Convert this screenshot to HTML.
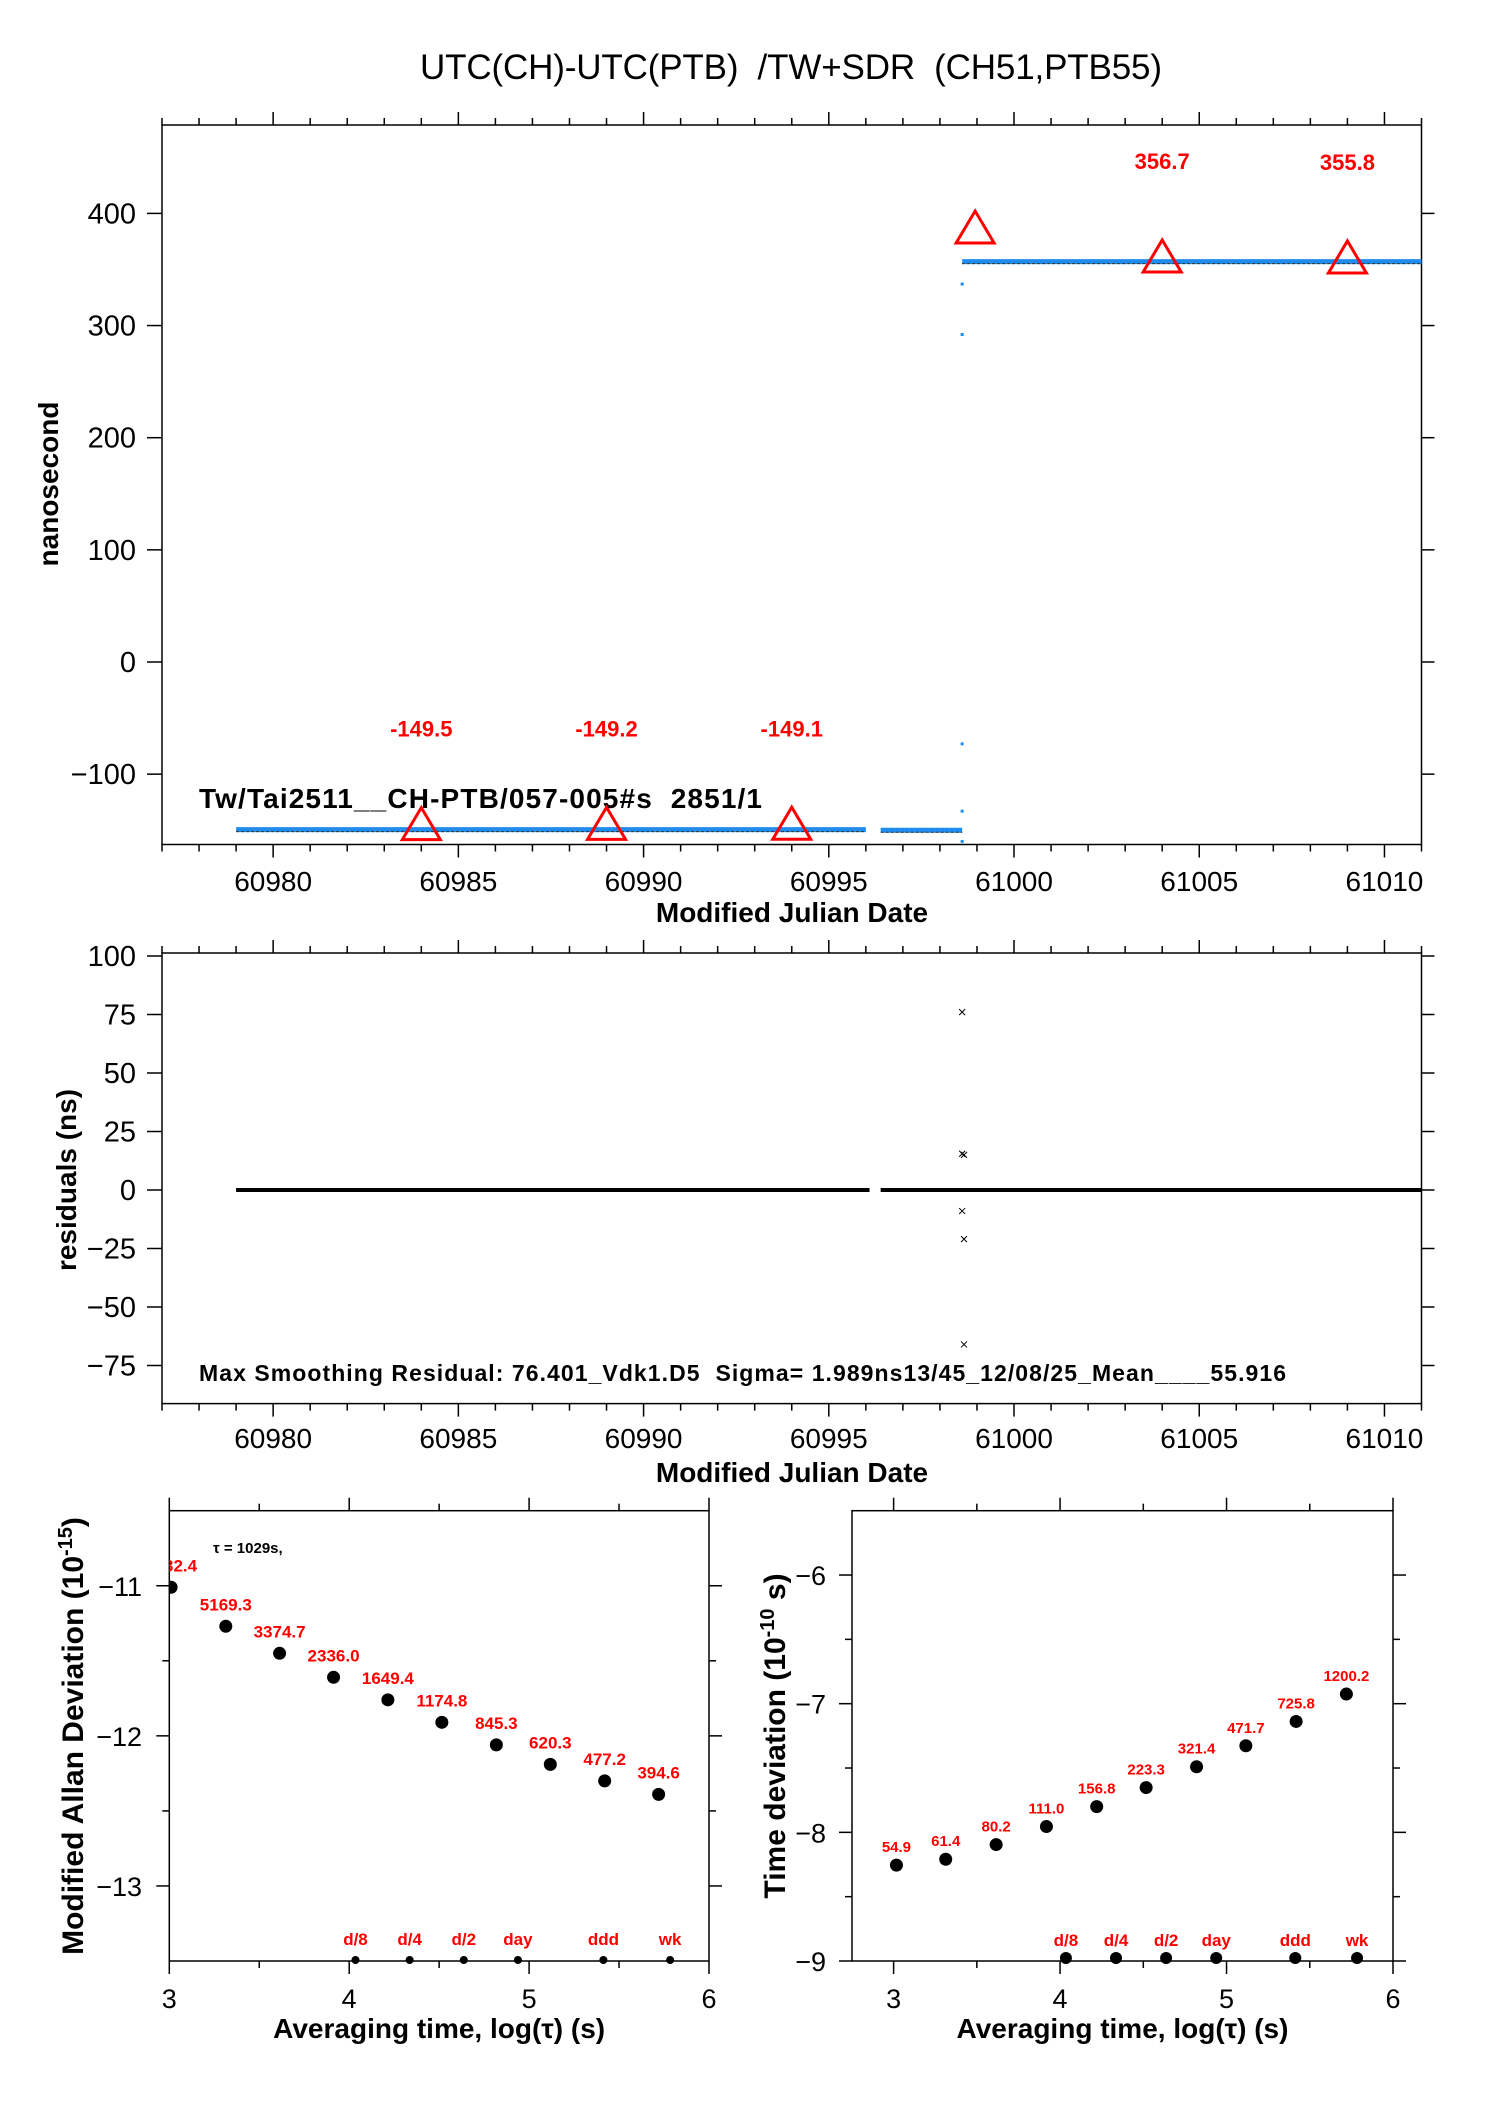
<!DOCTYPE html>
<html><head><meta charset="utf-8"><style>
html,body{margin:0;padding:0;background:#fff;}
svg{display:block;font-family:"Liberation Sans",Arial,sans-serif;}
text{white-space:pre;}
</style></head><body>
<svg id="fig" width="1488" height="2105" viewBox="0 0 1488 2105" xmlns="http://www.w3.org/2000/svg">
<rect width="1488" height="2105" fill="#fff"/>
<text x="791" y="79" font-size="35" text-anchor="middle" textLength="742">UTC(CH)-UTC(PTB)  /TW+SDR  (CH51,PTB55)</text>
<g id="g1"></g>
<g id="g2"></g>
<g id="g3"></g>
<g id="g4"></g>
</svg>
<script>
// ---- panel 1 data ----
const segStart=[60979.0,60996.4,60998.6];
const segEnd=[60996.0,60998.6,61011.0];
const segValue=[-149.5,-150.0,357.0];
const outlierDates=[60998.6,60998.6,60998.6,60998.6,60998.6];
const outlierValues=[337,292,-73,-133,-160];
const triDates=[60984,60989,60994,60998.95,61004,61009];
const triValues=[-149.5,-149.2,-149.1,382.5,356.7,355.8];
const triLabels=["-149.5","-149.2","-149.1","","356.7","355.8"];
const yTicks1=[-100,0,100,200,300,400];
const xTickLabels=["60980","60985","60990","60995","61000","61005","61010"];
// ---- panel 2 data ----
const resSegStart=[60979.0,60996.4];
const resSegEnd=[60996.1,61011.0];
const resOutDates=[60998.6,60998.6,60998.65,60998.6,60998.65,60998.65];
const resOutValues=[76,15.5,15,-9,-21,-66];
const yTicks2=[-75,-50,-25,0,25,50,75,100];
// ---- panel 3 data (MDEV) ----
const mdevLogTau=[3.01,3.314,3.613,3.913,4.215,4.515,4.818,5.118,5.42,5.72];
const mdevVals=[-11.01,-11.27,-11.45,-11.61,-11.76,-11.91,-12.06,-12.19,-12.30,-12.39];
const mdevLabels=["7932.4","5169.3","3374.7","2336.0","1649.4","1174.8","845.3","620.3","477.2","394.6"];
// ---- panel 4 data (TDEV) ----
const tdevLogTau=[3.017,3.313,3.616,3.918,4.22,4.517,4.82,5.116,5.418,5.72];
const tdevVals=[-8.255,-8.209,-8.095,-7.955,-7.80,-7.652,-7.49,-7.327,-7.138,-6.925];
const tdevLabels=["54.9","61.4","80.2","111.0","156.8","223.3","321.4","471.7","725.8","1200.2"];
const markLogTau=[4.035,4.336,4.637,4.938,5.413,5.784];
const markLabels=["d/8","d/4","d/2","day","ddd","wk"];

const NS="http://www.w3.org/2000/svg";
function mk(parent,tag,attrs,txt){const e=document.createElementNS(NS,tag);for(const k in attrs)e.setAttribute(k,attrs[k]);if(txt!==undefined)e.textContent=txt;parent.appendChild(e);return e;}
function lin(d0,d1,p0,p1){return v=>p0+(v-d0)*(p1-p0)/(d1-d0);}

// ===== Panel 1 =====
(function(){
const g=document.getElementById('g1');
const L=162,R=1421.5,T=125,B=844.5;
const sx=lin(60977,61011,L,R), sy=lin(0,400,662,213.4);
let e=mk(g,'rect',{x:L,y:T,width:R-L,height:B-T,fill:'none',stroke:'#000','stroke-width':1.5});

for(let d=60977;d<=61011;d++){const maj=(d%5===0);const len=maj?13:7;const x=sx(d);
 mk(g,'line',{x1:x,y1:T,x2:x,y2:T-len,stroke:'#000','stroke-width':1.5});
 mk(g,'line',{x1:x,y1:B,x2:x,y2:B+len,stroke:'#000','stroke-width':1.5});}
xTickLabels.forEach(s=>{e=mk(g,'text',{x:sx(+s),y:891,'font-size':28,'text-anchor':'middle'},s);
 });
yTicks1.forEach(v=>{const y=sy(v);
 mk(g,'line',{x1:L,y1:y,x2:L-15,y2:y,stroke:'#000','stroke-width':1.5});
 mk(g,'line',{x1:R,y1:y,x2:R+13,y2:y,stroke:'#000','stroke-width':1.5});
 e=mk(g,'text',{x:136,y:y+10,'font-size':29,'text-anchor':'end'},v<0?'\u2212'+(-v):String(v));
 });
e=mk(g,'text',{x:0,y:0,'font-size':28,'font-weight':'bold','text-anchor':'middle',transform:'translate(58,484) rotate(-90)'},'nanosecond');

e=mk(g,'text',{x:792,y:922,'font-size':28,'font-weight':'bold','text-anchor':'middle'},'Modified Julian Date');

segStart.forEach((s,i)=>{const y=sy(segValue[i]);
 e=mk(g,'line',{x1:sx(s),y1:y,x2:sx(segEnd[i]),y2:y,stroke:'#1e8cf0','stroke-width':5});
 
 mk(g,'line',{x1:sx(s),y1:y+2,x2:sx(segEnd[i]),y2:y+2,stroke:'#333','stroke-width':1,'stroke-dasharray':'3 2'});});
outlierDates.forEach((d,i)=>{e=mk(g,'rect',{x:sx(d)-1.5,y:sy(outlierValues[i])-1.5,width:3,height:3,fill:'#1e8cf0'});
 });
e=mk(g,'text',{x:199,y:808,'font-size':28,'font-weight':'bold',textLength:563},'Tw/Tai2511__CH-PTB/057-005#s  2851/1');

triDates.forEach((d,i)=>{const x=sx(d),y=sy(triValues[i]);
 e=mk(g,'polygon',{points:`${x-19},${y+10} ${x+19},${y+10} ${x},${y-22}`,fill:'none',stroke:'#f00','stroke-width':3});
 
 if(triLabels[i]){e=mk(g,'text',{x:x,y:sy(triValues[i]+90)+8,'font-size':22,'font-weight':'bold',fill:'#f00','text-anchor':'middle'},triLabels[i]);
 }});
})();

// ===== Panel 2 =====
(function(){
const g=document.getElementById('g2');
const L=162,R=1421.5,T=953,B=1403.6;
const sx=lin(60977,61011,L,R), sy=lin(0,100,1190,956);
let e=mk(g,'rect',{x:L,y:T,width:R-L,height:B-T,fill:'none',stroke:'#000','stroke-width':1.5});

for(let d=60977;d<=61011;d++){const maj=(d%5===0);const len=maj?13:7;const x=sx(d);
 mk(g,'line',{x1:x,y1:T,x2:x,y2:T-len,stroke:'#000','stroke-width':1.5});
 mk(g,'line',{x1:x,y1:B,x2:x,y2:B+len,stroke:'#000','stroke-width':1.5});}
xTickLabels.forEach(s=>{e=mk(g,'text',{x:sx(+s),y:1448,'font-size':28,'text-anchor':'middle'},s);
 });
yTicks2.forEach(v=>{const y=sy(v);
 mk(g,'line',{x1:L,y1:y,x2:L-15,y2:y,stroke:'#000','stroke-width':1.5});
 mk(g,'line',{x1:R,y1:y,x2:R+13,y2:y,stroke:'#000','stroke-width':1.5});
 e=mk(g,'text',{x:136,y:y+10,'font-size':29,'text-anchor':'end'},v<0?'\u2212'+(-v):String(v));
 });
e=mk(g,'text',{x:0,y:0,'font-size':28,'font-weight':'bold','text-anchor':'middle',transform:'translate(76,1180) rotate(-90)'},'residuals (ns)');

e=mk(g,'text',{x:792,y:1482,'font-size':28,'font-weight':'bold','text-anchor':'middle'},'Modified Julian Date');

resSegStart.forEach((s,i)=>{e=mk(g,'line',{x1:sx(s),y1:sy(0),x2:sx(resSegEnd[i]),y2:sy(0),stroke:'#000','stroke-width':4});
 });
resOutDates.forEach((d,i)=>{const x=sx(d),y=sy(resOutValues[i]);
 e=mk(g,'path',{d:`M${x-3},${y-3}L${x+3},${y+3}M${x-3},${y+3}L${x+3},${y-3}`,stroke:'#000','stroke-width':1});
 });
e=mk(g,'text',{x:199,y:1381,'font-size':23,'font-weight':'bold',textLength:1087},'Max Smoothing Residual: 76.401_Vdk1.D5  Sigma= 1.989ns13/45_12/08/25_Mean____55.916');

})();

// ===== Stability panels =====
function stab(g,L,R,T,B,x0,x1,y0,y1,xt,xminor,yt,yminor,ylab,ylx,tickLabX){
 const sx=lin(x0,x1,L,R), sy=lin(y0,y1,T,B);
 let e=mk(g,'rect',{x:L,y:T,width:R-L,height:B-T,fill:'none',stroke:'#000','stroke-width':1.5});
 
 xt.concat(xminor).forEach(v=>{const len=xt.includes(v)?13:7;const x=sx(v);
  mk(g,'line',{x1:x,y1:T,x2:x,y2:T-len,stroke:'#000','stroke-width':1.5});
  mk(g,'line',{x1:x,y1:B,x2:x,y2:B+len,stroke:'#000','stroke-width':1.5});});
 xt.forEach(v=>{e=mk(g,'text',{x:sx(v),y:2008,'font-size':27,'text-anchor':'middle'},String(v));
  });
 yt.concat(yminor).forEach(v=>{const len=yt.includes(v)?13:7;const y=sy(v);
  mk(g,'line',{x1:L,y1:y,x2:L-len,y2:y,stroke:'#000','stroke-width':1.5});
  mk(g,'line',{x1:R,y1:y,x2:R+len,y2:y,stroke:'#000','stroke-width':1.5});});
 yt.forEach(v=>{e=mk(g,'text',{x:tickLabX,y:sy(v)+10,'font-size':27,'text-anchor':'end'},'\u2212'+(-v));
  });
 e=mk(g,'text',{x:0,y:0,'font-size':30,'font-weight':'bold','text-anchor':'middle',transform:`translate(${ylx},1736) rotate(-90)`});
 e.innerHTML=ylab;
 
 e=mk(g,'text',{x:(L+R)/2,y:2038,'font-size':28,'font-weight':'bold','text-anchor':'middle'},'Averaging time, log(\u03C4) (s)');
 
 return {sx,sy};
}
(function(){
 const g=document.getElementById('g3');
 const L=169.3,R=709,T=1510.7,B=1961;
 const {sx,sy}=stab(g,L,R,T,B,3,6,-10.5,-13.5,[3,4,5,6],[3.5,4.5,5.5],[-11,-12,-13],[-11.5,-12.5],
  'Modified Allan Deviation (10<tspan dy="-11" font-size="20">-15</tspan><tspan dy="11">)</tspan>',83,142);
 mk(g,'clipPath',{id:'c3'}).appendChild(document.createElementNS(NS,'rect'));
 const cr=g.querySelector('#c3 rect');cr.setAttribute('x',L);cr.setAttribute('y',T);cr.setAttribute('width',R-L);cr.setAttribute('height',B-T);
 let e=mk(g,'text',{x:213,y:1553,'font-size':15,'font-weight':'bold'},'\u03C4 = 1029s,');
 
 mdevLogTau.forEach((t,i)=>{const x=sx(t),y=sy(mdevVals[i]);
  e=mk(g,'circle',{cx:x,cy:y,r:6.5,fill:'#000','clip-path':'url(#c3)'});
  
  e=mk(g,'text',{x:x,y:y-16,'font-size':17,'font-weight':'bold',fill:'#f00','text-anchor':'middle','clip-path':'url(#c3)'},mdevLabels[i]);
  });
 markLogTau.forEach((t,i)=>{const x=sx(t);
  e=mk(g,'circle',{cx:x,cy:B-1,r:4,fill:'#000'});
  
  e=mk(g,'text',{x:x,y:1945,'font-size':17,'font-weight':'bold',fill:'#f00','text-anchor':'middle'},markLabels[i]);
  });
})();
(function(){
 const g=document.getElementById('g4');
 const L=852,R=1393,T=1510.7,B=1961;
 const {sx,sy}=stab(g,L,R,T,B,2.75,6,-5.5,-9,[3,4,5,6],[3.5,4.5,5.5],[-6,-7,-8,-9],[-6.5,-7.5,-8.5],
  'Time deviation (10<tspan dy="-11" font-size="20">-10</tspan><tspan dy="11"> s)</tspan>',785,826);
 let e;
 tdevLogTau.forEach((t,i)=>{const x=sx(t),y=sy(tdevVals[i]);
  e=mk(g,'circle',{cx:x,cy:y,r:6.5,fill:'#000'});
  
  e=mk(g,'text',{x:x,y:y-13,'font-size':15,'font-weight':'bold',fill:'#f00','text-anchor':'middle'},tdevLabels[i]);
  });
 markLogTau.forEach((t,i)=>{const x=sx(t);
  e=mk(g,'circle',{cx:x,cy:B-3,r:6,fill:'#000'});
  
  e=mk(g,'text',{x:x,y:1946,'font-size':17,'font-weight':'bold',fill:'#f00','text-anchor':'middle'},markLabels[i]);
  });
})();
</script>
</body></html>
